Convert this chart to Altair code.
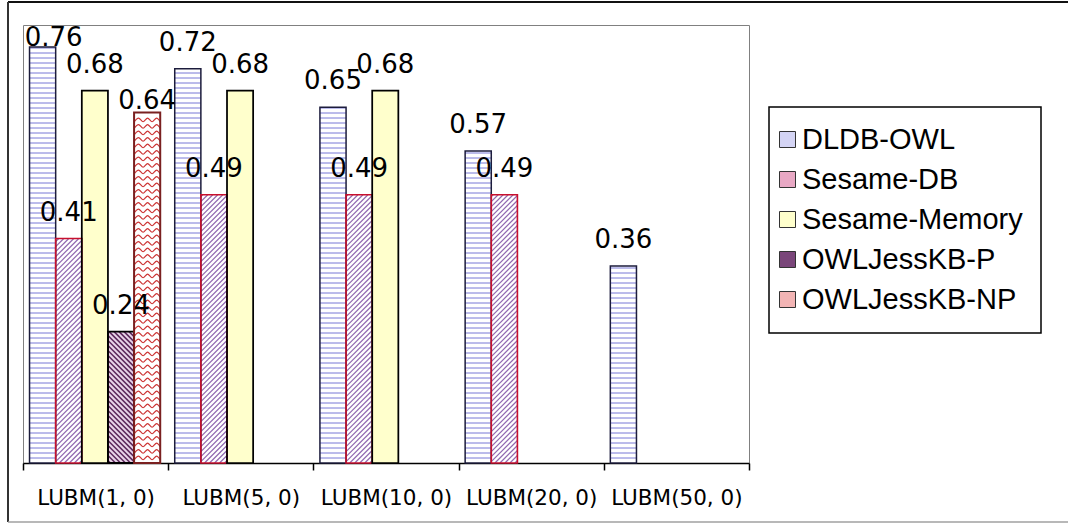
import altair as alt
import numpy as np
import pandas as pd

# ---- data -------------------------------------------------------------
categories = ["LUBM(1, 0)", "LUBM(5, 0)", "LUBM(10, 0)", "LUBM(20, 0)", "LUBM(50, 0)"]
series_names = ["DLDB-OWL", "Sesame-DB", "Sesame-Memory", "OWLJessKB-P", "OWLJessKB-NP"]

dldb_owl = [0.76, 0.72, 0.65, 0.57, 0.36]
sesame_db = [0.41, 0.49, 0.49, 0.49, None]
sesame_memory = [0.68, 0.68, 0.68, None, None]
owljesskb_p = [0.24, None, None, None, None]
owljesskb_np = [0.64, None, None, None, None]

series_values = [dldb_owl, sesame_db, sesame_memory, owljesskb_p, owljesskb_np]

# ---- layout / style ---------------------------------------------------
PLOT_W, PLOT_H = 726, 438
Y_MAX = 0.8
GROUP_PAD, BAR_W = 0.045, 0.18          # in category units (one group = 1.0)
SX = PLOT_W / len(categories)           # pixels per category unit
SY = PLOT_H / Y_MAX                     # pixels per value unit

BAR_BG = ["#ffffff", "#ffffff", "#ffffcc", "#ead6ea", "#ffffff"]
BORDER = ["#1c1c3c", "#c8102e", "#000000", "#000000", "#7a2020"]
BORDER_W = [1.5, 2, 1.5, 2.5, 1.5]
LEGEND_FILL = ["#d4d4f4", "#e8a8c4", "#ffffcc", "#7a467a", "#f2b4b4"]

XS = alt.Scale(domain=[0, len(categories)], nice=False, zero=False)
YS = alt.Scale(domain=[0, Y_MAX], nice=False, zero=True)
SERIES_IDX = list(range(len(series_names)))

# one row per drawn bar
rows = []
for si, (name, vals) in enumerate(zip(series_names, series_values)):
    for gi, v in enumerate(vals):
        if v is None:
            continue
        x0 = gi + GROUP_PAD + si * BAR_W
        rows.append(dict(category=categories[gi], series=name, si=si, value=v,
                         x0=x0, x1=x0 + BAR_W, xm=x0 + BAR_W / 2))
bars = pd.DataFrame(rows)


# ---- fill patterns, built in pixel space inside each bar ---------------
def bar_px(r):
    return BAR_W * SX, r.value * SY


def seg(r, u0, v0, u1, v1):
    return dict(xa=r.x0 + u0 / SX, ya=v0 / SY, xb=r.x0 + u1 / SX, yb=v1 / SY)


def horizontal_lines(r, gap):
    w, h = bar_px(r)
    return [seg(r, 0, v, w, v) for v in np.arange(gap, h - 0.5, gap)]


def rising_lines(r, gap):
    w, h = bar_px(r)
    out = []
    for c in np.arange(-w + gap / 2, h, gap):
        ua, ub = max(0.0, -c), min(w, h - c)
        if ub > ua:
            out.append(seg(r, ua, ua + c, ub, ub + c))
    return out


def falling_lines(r, gap):
    w, h = bar_px(r)
    out = []
    for c in np.arange(gap / 2, w + h, gap):
        ua, ub = max(0.0, c - h), min(w, c)
        if ub > ua:
            out.append(seg(r, ua, c - ua, ub, c - ub))
    return out


def wave_lines(r, gap, period, amp):
    w, h = bar_px(r)
    pts = []
    n = int(np.ceil(w / (period / 2)))
    for k, base in enumerate(np.arange(gap / 2 + amp, h - amp, gap)):
        for j in range(n + 1):
            u = min(j * period / 2, w)
            v = base + (amp if j % 2 else -amp)
            pts.append(dict(row=f"{r.category}-{k}", order=j,
                            x=r.x0 + u / SX, y=v / SY))
    return pts


def pattern(name, fn, *args):
    out = []
    for r in bars[bars.series == name].itertuples():
        out.extend(fn(r, *args))
    return pd.DataFrame(out)


h_lines = pattern("DLDB-OWL", horizontal_lines, 5)
db_lines = pattern("Sesame-DB", rising_lines, 5)
p_lines = pattern("OWLJessKB-P", falling_lines, 5)
np_waves = pattern("OWLJessKB-NP", wave_lines, 6.5, 9, 1.8)

# ---- layers -----------------------------------------------------------
base = alt.Chart(bars)
bar_x = alt.X("x0:Q", scale=XS, axis=None)
bar_y = alt.Y("value:Q", scale=YS, axis=None)

# bar background and outline are keyed by series index (their own scales)
bar_fill = base.mark_rect().encode(
    x=bar_x, x2="x1:Q", y=bar_y, y2=alt.datum(0),
    fill=alt.Fill("si:N", scale=alt.Scale(domain=SERIES_IDX, range=BAR_BG), legend=None),
)


def segment_layer(df, color, width):
    return alt.Chart(df).mark_rule(color=color, strokeWidth=width).encode(
        x=alt.X("xa:Q", scale=XS, axis=None),
        x2="xb:Q",
        y=alt.Y("ya:Q", scale=YS, axis=None),
        y2="yb:Q",
    )


dldb_pattern = segment_layer(h_lines, "#7878d6", 1)
db_pattern = segment_layer(db_lines, "#9068b0", 1.2)
p_pattern = segment_layer(p_lines, "#5e2a5e", 1.6)
np_pattern = alt.Chart(np_waves).mark_line(color="#cc3333", strokeWidth=1.2, interpolate="monotone").encode(
    x=alt.X("x:Q", scale=XS, axis=None),
    y=alt.Y("y:Q", scale=YS, axis=None),
    detail="row:N",
    order="order:Q",
)

bar_border = base.mark_rect(fill="transparent").encode(
    x=bar_x, x2="x1:Q", y=bar_y, y2=alt.datum(0),
    stroke=alt.Stroke("si:N", scale=alt.Scale(domain=SERIES_IDX, range=BORDER), legend=None),
    strokeWidth=alt.StrokeWidth("si:N", scale=alt.Scale(domain=SERIES_IDX, range=BORDER_W), legend=None),
)


def value_labels(filter_expr, dx, dy):
    return base.transform_filter(filter_expr).mark_text(
        font="DejaVu Sans", fontSize=26, color="black", baseline="alphabetic", dx=dx, dy=dy
    ).encode(
        x=alt.X("xm:Q", scale=XS, axis=None),
        y=bar_y,
        text=alt.Text("value:Q", format=".2f"),
    )


first_dldb = "datum.series == 'DLDB-OWL' && datum.category == 'LUBM(1, 0)'"
np_bar = "datum.series == 'OWLJessKB-NP'"
labels_main = value_labels(f"!({first_dldb}) && !({np_bar})", 0, -18)
labels_first = value_labels(first_dldb, 11, -1)
labels_np = value_labels(np_bar, 0, -4)

# series legend: invisible squares carry the colour scale, the legend shows it
legend_layer = base.mark_square(
    size=256, fillOpacity=0, strokeOpacity=0, stroke="#333333", strokeWidth=1
).encode(
    x=alt.X("xm:Q", scale=XS, axis=None),
    y=bar_y,
    color=alt.Color(
        "series:N",
        scale=alt.Scale(domain=series_names, range=LEGEND_FILL),
        legend=alt.Legend(
            title=None, orient="none", legendX=746, legendY=82, direction="vertical",
            symbolType="square", symbolSize=256, symbolStrokeWidth=1,
            symbolStrokeColor="#333333", symbolOpacity=1,
            symbolOffset=-14, labelOffset=0, labelLimit=400,
            labelFont="Liberation Sans", labelFontSize=29, labelColor="black",
            rowPadding=10, padding=18,
            strokeColor="black", fillColor="white",
        ),
    ),
)

plot = alt.layer(bar_fill, dldb_pattern, db_pattern, p_pattern, np_pattern,
                 bar_border, labels_main, labels_first, labels_np, legend_layer)

# category axis: ticks between groups, labels centred under each group
axis_layer = alt.Chart(pd.DataFrame({"category": categories})).mark_rule(opacity=0).encode(
    x=alt.X(
        "category:N", sort=categories,
        scale=alt.Scale(type="band", paddingInner=0, paddingOuter=0),
        axis=alt.Axis(
            title=None, labelAngle=0, tickBand="extent", grid=False,
            tickSize=7, tickColor="black", tickWidth=1.5,
            domainColor="black", domainWidth=1.5,
            labelFont="DejaVu Sans", labelFontSize=21.5, labelColor="black", labelPadding=17,
        ),
    )
)

# outer frame: top, left and bottom edges (the right edge runs off the canvas)
frame_df = pd.DataFrame({"k": [0]})
frame_top = alt.Chart(frame_df).mark_rule(color="#111111", strokeWidth=2).encode(
    x=alt.value(-15), x2=alt.value(1060), y=alt.value(-23))
frame_left = alt.Chart(frame_df).mark_rule(color="#333333", strokeWidth=2).encode(
    x=alt.value(-15), y=alt.value(-23), y2=alt.value(497))
frame_bottom = alt.Chart(frame_df).mark_rule(color="#a0a0a0", strokeWidth=1.5).encode(
    x=alt.value(-15), x2=alt.value(1060), y=alt.value(497))

chart = (
    alt.layer(frame_top, frame_left, frame_bottom, axis_layer, plot)
    .resolve_scale(x="independent")
    .properties(
        width=PLOT_W, height=PLOT_H,
        padding={"left": 23, "top": 25, "right": 319, "bottom": 62},
        autosize=alt.AutoSizeParams(type="none"),
        background="white",
    )
    .configure_view(stroke="#808080", strokeWidth=1)
    .configure_legend(strokeWidth=1.5)
)

chart.save("out.html", embed_options={"renderer": "svg", "actions": False})
